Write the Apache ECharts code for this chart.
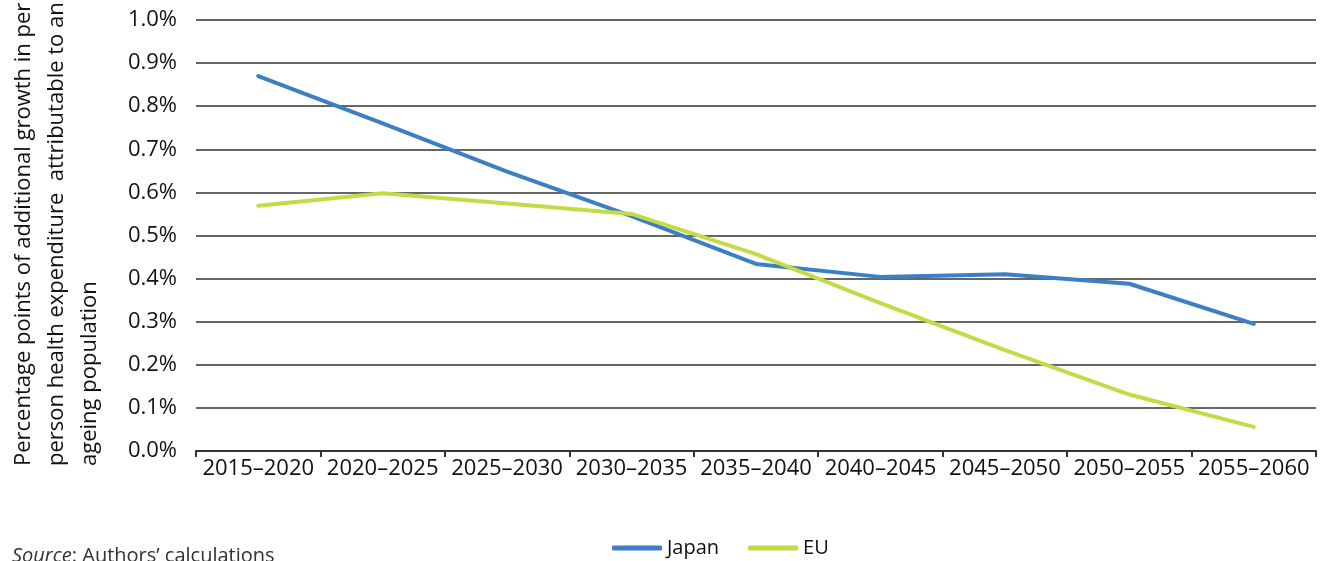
<!DOCTYPE html>
<html>
<head>
<meta charset="utf-8">
<script src="https://cdn.jsdelivr.net/npm/echarts@6/dist/echarts.min.js"></script>
<style>
html, body { margin: 0; padding: 0; background: #fff; }
#chart { width: 1321px; height: 561px; }
</style>
</head>
<body>
<div id="chart"></div>
<script>
var periods = ['2015–2020', '2020–2025', '2025–2030', '2030–2035', '2035–2040',
		'2040–2045', '2045–2050', '2050–2055', '2055–2060'];
var japanValues = [0.87, 0.76, 0.648, 0.545, 0.434, 0.404, 0.41, 0.388, 0.295];
var euValues = [0.569, 0.598, 0.574, 0.55, 0.457, 0.343, 0.234, 0.131, 0.056];
var yTicks = [0, 0.1, 0.2, 0.3, 0.4, 0.5, 0.6, 0.7, 0.8, 0.9, 1.0];

var fontName = '"Open Sans", "DejaVu Sans", sans-serif';

var chart = echarts.init(document.getElementById('chart'));
var option = {
	animation : false,
	grid : {
		left : 196,
		right : 5,
		top : 20,
		bottom : 110
	},
	legend : {
		left : 607,
		top : 533,
		itemWidth : 50,
		itemHeight : 5,
		itemGap : 29,
		icon : 'roundRect',
		textStyle : {
			fontFamily : fontName,
			fontSize : 20,
			color : '#111'
		},
		data : ['Japan', 'EU']
	},
	xAxis : {
		type : 'category',
		data : periods,
		boundaryGap : true,
		axisLine : {
			lineStyle : {
				color : '#333',
				width : 2
			}
		},
		axisTick : {
			show : true,
			length : 6,
			lineStyle : {
				color : '#333',
				width : 2
			}
		},
		axisLabel : {
			fontFamily : fontName,
			fontSize : 22,
			color : '#111',
			margin : 7,
			interval : 0
		}
	},
	yAxis : {
		type : 'value',
		min : yTicks[0],
		max : yTicks[yTicks.length - 1],
		interval : 0.1,
		axisLine : { show : false },
		axisTick : { show : false },
		axisLabel : {
			fontFamily : fontName,
			fontSize : 22,
			color : '#111',
			margin : 19,
			formatter : function(v) {
				return v.toFixed(1) + '%';
			}
		},
		splitLine : {
			lineStyle : {
				color : '#333',
				width : 1.5
			}
		}
	},
	graphic : [ {
		type : 'text',
		x : 7,
		y : 466,
		rotation : Math.PI / 2,
		style : {
			text : 'Percentage points of additional growth in per\nperson health expenditure  attributable to an\nageing population',
			fontFamily : fontName,
			fontSize : 22,
			lineHeight : 33,
			fill : '#111',
			align : 'left',
			verticalAlign : 'top'
		}
	}, {
		type : 'text',
		x : 12,
		y : 546,
		style : {
			text : '{i|Source}: Authors\u2019 calculations',
			fontFamily : fontName,
			fontSize : 20,
			fill : '#333',
			rich : {
				i : {
					fontStyle : 'italic',
					fontFamily : fontName,
					fontSize : 20,
					fill : '#333'
				}
			}
		}
	} ],
	series : [ {
		name : 'Japan',
		type : 'line',
		data : japanValues,
		showSymbol : false,
		symbol : 'none',
		color : '#3d7fc4',
		lineStyle : {
			width : 4,
			color : '#3d7fc4',
			cap : 'round'
		}
	}, {
		name : 'EU',
		type : 'line',
		data : euValues,
		showSymbol : false,
		symbol : 'none',
		color : '#c5da45',
		lineStyle : {
			width : 4,
			color : '#c5da45',
			cap : 'round'
		}
	} ]
};
chart.setOption(option);
</script>
</body>
</html>
